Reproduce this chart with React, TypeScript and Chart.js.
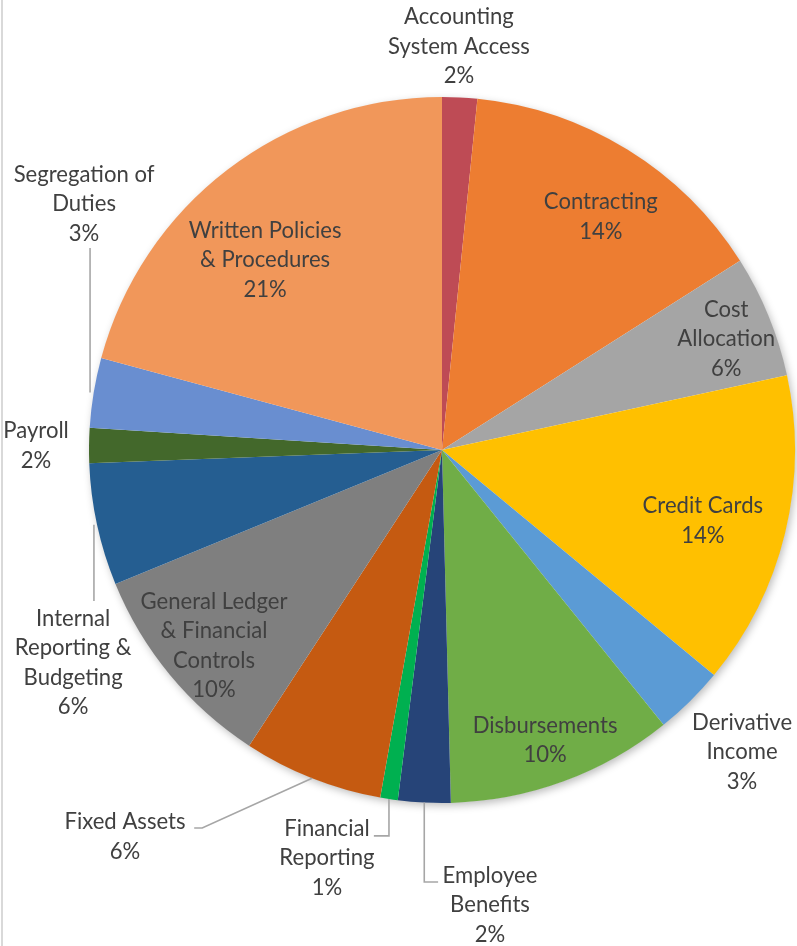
import { useEffect, useRef } from "react";
import { Chart, registerables } from "chart.js";

Chart.register(...registerables);

// ---- data ----
const CATEGORIES = [
  "Accounting System Access",
  "Contracting",
  "Cost Allocation",
  "Credit Cards",
  "Derivative Income",
  "Disbursements",
  "Employee Benefits",
  "Financial Reporting",
  "Fixed Assets",
  "General Ledger & Financial Controls",
  "Internal Reporting & Budgeting",
  "Payroll",
  "Segregation of Duties",
  "Written Policies & Procedures",
];
const COUNTS = [2, 18, 7, 18, 4, 13, 3, 1, 8, 12, 7, 2, 4, 26];
const COLORS = [
  "#BE4B55",
  "#ED7D31",
  "#A5A5A5",
  "#FFC000",
  "#5B9BD5",
  "#70AD47",
  "#264478",
  "#00B050",
  "#C55A11",
  "#7F7F7F",
  "#255E91",
  "#43682B",
  "#698ED0",
  "#F1975A",
];
const LABEL_LINES = [
  ["Accounting", "System Access"],
  ["Contracting"],
  ["Cost", "Allocation"],
  ["Credit Cards"],
  ["Derivative", "Income"],
  ["Disbursements"],
  ["Employee", "Benefits"],
  ["Financial", "Reporting"],
  ["Fixed Assets"],
  ["General Ledger", "& Financial", "Controls"],
  ["Internal", "Reporting &", "Budgeting"],
  ["Payroll"],
  ["Segregation of", "Duties"],
  ["Written Policies", "& Procedures"],
];

// ---- layout (label block centres, in pie-radius units from the pie centre) ----
const LABEL_POS: number[][] = [
  [0.048, -1.142],
  [0.45, -0.66],
  [0.805, -0.314],
  [0.739, 0.201],
  [0.85, 0.856],
  [0.292, 0.822],
  [0.136, 1.289],
  [-0.326, 1.156],
  [-0.898, 1.096],
  [-0.646, 0.555],
  [-1.045, 0.603],
  [-1.15, -0.011],
  [-1.014, -0.697],
  [-0.501, -0.538],
];
// leader lines: kind + start point (radius units)
// "v": start -> (start.x, edge.y); "hv": start -> (edge.x, start.y) -> edge; "hd": start -> (start.x+elbow, start.y) -> edge
const LEADERS: ({ kind: string; start: number[] } | null)[] = [
  null,
  null,
  null,
  null,
  null,
  null,
  { kind: "hv", start: [-0.011, 1.224] },
  { kind: "hv", start: [-0.193, 1.093] },
  { kind: "hd", start: [-0.702, 1.071] },
  null,
  { kind: "v", start: [-0.986, 0.428] },
  null,
  { kind: "v", start: [-0.997, -0.572] },
  null,
];

const TEXT_COLOR = "#404040";
const LEADER_COLOR = "#A6A6A6";
const FONT_FAMILY = "Lato, 'Open Sans', sans-serif";

const decorPlugin = {
  id: "decor",
  beforeDraw(chart: any) {
    const ctx = chart.ctx;
    ctx.save();
    ctx.fillStyle = "#ffffff";
    ctx.fillRect(0, 0, chart.width, chart.height);
    ctx.fillStyle = "#D9D9D9";
    ctx.fillRect(1, 0, 2, chart.height);
    ctx.restore();
  },
  beforeDatasetsDraw(chart: any) {
    const meta = chart.getDatasetMeta(0);
    const a = meta.data[0] as any;
    if (!a) return;
    const ctx = chart.ctx;
    ctx.save();
    ctx.shadowColor = "rgba(0,0,0,0.28)";
    ctx.shadowBlur = 9;
    ctx.shadowOffsetX = 2;
    ctx.shadowOffsetY = 3;
    ctx.fillStyle = "#ffffff";
    ctx.beginPath();
    ctx.arc(a.x, a.y, a.outerRadius - 0.5, 0, Math.PI * 2);
    ctx.fill();
    ctx.restore();
  },
  afterDatasetsDraw(chart: any) {
    const meta = chart.getDatasetMeta(0);
    const ctx = chart.ctx;
    const total = COUNTS.reduce((s, v) => s + v, 0);
    ctx.save();
    // fit the font so "Contracting" is ~114px wide (Calibri 18pt equivalent)
    ctx.font = `100px ${FONT_FAMILY}`;
    const w = ctx.measureText("Contracting").width;
    const size = Math.round((100 * 114) / w * 10) / 10;
    const lineH = 29.5;

    meta.data.forEach((el: any, i: number) => {
      const cx = el.x;
      const cy = el.y;
      const R = el.outerRadius;
      const mid = (el.startAngle + el.endAngle) / 2;
      const ex = cx + R * Math.cos(mid);
      const ey = cy + R * Math.sin(mid);
      const ld = LEADERS[i];
      if (ld) {
        const sx = cx + ld.start[0] * R;
        const sy = cy + ld.start[1] * R;
        ctx.strokeStyle = LEADER_COLOR;
        ctx.lineWidth = 1.6;
        ctx.beginPath();
        ctx.moveTo(sx, sy);
        if (ld.kind === "v") {
          ctx.lineTo(sx, ey);
        } else if (ld.kind === "hv") {
          ctx.lineTo(ex, sy);
          ctx.lineTo(ex, ey);
        } else {
          ctx.lineTo(sx + 8, sy);
          ctx.lineTo(ex, ey);
        }
        ctx.stroke();
      }
      const lx = cx + LABEL_POS[i][0] * R;
      const ly = cy + LABEL_POS[i][1] * R;
      const pct = Math.round((COUNTS[i] / total) * 100) + "%";
      const lines = [...LABEL_LINES[i], pct];
      ctx.fillStyle = TEXT_COLOR;
      ctx.font = `${size}px ${FONT_FAMILY}`;
      ctx.textAlign = "center";
      ctx.textBaseline = "middle";
      lines.forEach((t, k) => {
        ctx.fillText(t, lx, ly + (k - (lines.length - 1) / 2) * lineH);
      });
    });
    ctx.restore();
  },
};

export default function App() {
  const ref = useRef<HTMLCanvasElement | null>(null);
  useEffect(() => {
    if (!ref.current) return;
    const chart = new Chart(ref.current, {
      type: "pie",
      data: {
        labels: CATEGORIES,
        datasets: [
          {
            data: COUNTS,
            backgroundColor: COLORS,
            borderWidth: 0,
          },
        ],
      },
      options: {
        responsive: false,
        animation: false,
        devicePixelRatio: 1,
        layout: { padding: { left: 89, right: 2, top: 97, bottom: 143 } },
        plugins: {
          legend: { display: false },
          tooltip: { enabled: false },
        },
      },
      plugins: [decorPlugin],
    });
    return () => chart.destroy();
  }, []);
  return (
    <div
      style={{
        position: "absolute",
        left: 0,
        top: 0,
        width: 797,
        height: 946,
        background: "#fff",
      }}
    >
      <canvas ref={ref} width={797} height={946} style={{ width: 797, height: 946, display: "block" }} />
    </div>
  );
}
